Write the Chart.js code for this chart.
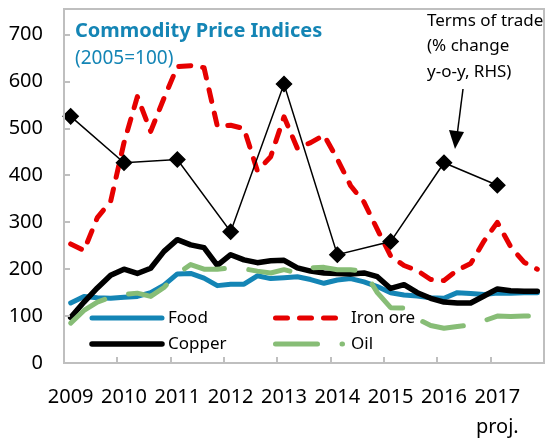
<!DOCTYPE html>
<html lang="en">
<head>
  <meta charset="UTF-8">
  <title>Commodity Price Indices</title>
  <script src="https://cdn.jsdelivr.net/npm/chart.js"></script>
  <style>
    html, body { margin: 0; padding: 0; background: #fff; }
  </style>
</head>
<body>
  <canvas id="grafico" width="553" height="439"></canvas>

<script>
  // categorias: trimestres de 2009 a 2017
  const years = ['2009', '2010', '2011', '2012', '2013', '2014', '2015', '2016', '2017'];
  const projYear = '2017';
  const quarters = [];
  years.forEach(function (y) {
    for (let q = 1; q <= 4; q++) quarters.push(y + ' Q' + q);
  });

  // indices (2005=100)
  const food = [128, 142, 139, 138, 140, 142, 150, 166, 190, 191, 181, 165,
    168, 168, 186, 180, 182, 184, 178, 170, 177, 180, 173, 163,
    150, 145, 143, 139, 138, 150, 148, 146, 149, 149, 150, 150];
  const copper = [97, 130, 160, 187, 200, 191, 202, 238, 263, 252, 246, 208,
    231, 220, 214, 218, 219, 203, 196, 192, 191, 190, 192, 184,
    159, 167, 150, 138, 130, 128, 128, 143, 158, 154, 153, 153];
  const ironOre = [254, 240, 310, 345, 470, 568, 494, 565, 632, 634, 630, 505,
    507, 500, 410, 440, 525, 458, 470, 486, 435, 378, 343, 285,
    228, 208, 197, 178, 176, 198, 212, 260, 300, 248, 215, 200];
  const oil = [85, 112, 130, 140, 146, 149, 142, 161, 190, 210, 200, 200,
    203, 201, 196, 192, 199, 192, 203, 204, 199, 199, 196, 150,
    118, 117, 94, 80, 74, 78, 81, 90, 100, 99, 100, 100];

  // termos de troca (anual, marcado no 1o trimestre)
  const totYears = ['2009', '2010', '2011', '2012', '2013', '2014', '2015', '2016', '2017'];
  const totValues = [526, 427, 434, 280, 595, 231, 259, 427, 379];

  const yTicks = [0, 100, 200, 300, 400, 500, 600, 700];

  const azul = '#1485b5';
  const fonte = 'Noto Sans';

  const totData = totYears.map(function (y, i) {
    return { x: y + ' Q1', y: totValues[i] };
  });

  const moldura = {
    id: 'moldura',
    afterDraw(chart) {
      const ctx = chart.ctx, a = chart.chartArea;
      const sx = chart.scales.x, sy = chart.scales.y;
      ctx.save();

      // caixa e marcas internas
      ctx.strokeStyle = '#bfbfbf';
      ctx.lineWidth = 2;
      ctx.strokeRect(a.left, a.top, a.right - a.left, a.bottom - a.top);
      ctx.beginPath();
      yTicks.forEach(function (v) {
        const py = Math.round(sy.getPixelForValue(v));
        ctx.moveTo(a.left, py);
        ctx.lineTo(a.left + 6, py);
      });
      for (let i = 4; i < quarters.length; i += 4) {
        const px = Math.round((sx.getPixelForValue(i - 1) + sx.getPixelForValue(i)) / 2);
        ctx.moveTo(px, a.bottom);
        ctx.lineTo(px, a.bottom - 6);
      }
      ctx.stroke();

      ctx.textBaseline = 'alphabetic';
      ctx.textAlign = 'left';

      // titulo
      ctx.fillStyle = azul;
      ctx.font = 'bold 20px "' + fonte + '"';
      ctx.fillText('Commodity Price Indices', 75, 37);
      ctx.font = '19px "' + fonte + '"';
      ctx.fillText('(2005=100)', 75, 64);

      // anotacao termos de troca
      ctx.fillStyle = '#000';
      ctx.font = '17px "' + fonte + '"';
      ctx.fillText('Terms of trade', 427, 26);
      ctx.fillText('(% change', 427, 51);
      ctx.fillText('y-o-y, RHS)', 427, 77);
      ctx.strokeStyle = '#000';
      ctx.lineWidth = 1.5;
      ctx.beginPath();
      ctx.moveTo(463, 89);
      ctx.lineTo(457.5, 132);
      ctx.stroke();
      ctx.beginPath();
      ctx.moveTo(455, 149);
      ctx.lineTo(449, 130);
      ctx.lineTo(464, 132);
      ctx.closePath();
      ctx.fill();

      // legenda
      const itens = [
        { ds: 0, x: 92, y: 318, w: 70 },
        { ds: 2, x: 275.5, y: 318, w: 60 },
        { ds: 1, x: 92, y: 344, w: 70 },
        { ds: 3, x: 275.5, y: 344, w: 67 }
      ];
      itens.forEach(function (it) {
        const d = chart.data.datasets[it.ds];
        ctx.save();
        ctx.strokeStyle = d.borderColor;
        ctx.lineWidth = d.borderWidth;
        ctx.lineCap = 'round';
        ctx.setLineDash(d.borderDash || []);
        ctx.beginPath();
        ctx.moveTo(it.x, it.y);
        ctx.lineTo(it.x + it.w, it.y);
        ctx.stroke();
        ctx.restore();
        ctx.fillStyle = '#000';
        ctx.font = '17px "' + fonte + '"';
        ctx.textBaseline = 'middle';
        ctx.fillText(d.label, it.x < 200 ? 168 : 351, it.y);
      });
      ctx.restore();
    }
  };

  new Chart(document.getElementById('grafico'), {
    type: 'line',
    data: {
      labels: quarters,
      datasets: [
        {
          label: 'Food', data: food, borderColor: azul, borderWidth: 5,
          pointRadius: 0, order: 4, borderCapStyle: 'round', borderJoinStyle: 'round'
        },
        {
          label: 'Copper', data: copper, borderColor: '#000', borderWidth: 5.5,
          pointRadius: 0, order: 3, borderCapStyle: 'round', borderJoinStyle: 'round'
        },
        {
          label: 'Iron ore', data: ironOre, borderColor: '#e60000', borderWidth: 5,
          borderDash: [12, 12], pointRadius: 0, order: 2,
          borderCapStyle: 'round', borderJoinStyle: 'round'
        },
        {
          label: 'Oil', data: oil, borderColor: '#87bd76', borderWidth: 5,
          borderDash: [42, 24.5], pointRadius: 0, order: 1,
          borderCapStyle: 'round', borderJoinStyle: 'round'
        },
        {
          label: 'Terms of trade', data: totData, borderColor: '#000', borderWidth: 1.5,
          pointStyle: 'rectRot', pointRadius: 7.5, pointBackgroundColor: '#000',
          pointBorderColor: '#000', order: 0
        }
      ]
    },
    options: {
      responsive: false,
      animation: false,
      devicePixelRatio: 1,
      layout: { padding: { top: 4, right: 4, left: 0, bottom: 0 } },
      plugins: { legend: { display: false }, tooltip: { enabled: false } },
      elements: { line: { tension: 0 } },
      scales: {
        x: {
          type: 'category',
          offset: true,
          grid: { display: false, drawTicks: false },
          border: { display: false },
          afterFit: function (s) {
            s.height = 76;
            s.paddingLeft = 0;
            s.paddingRight = 0;
          },
          ticks: {
            autoSkip: false,
            maxRotation: 0,
            minRotation: 0,
            padding: 19,
            color: '#000',
            font: { family: fonte, size: 20, lineHeight: 1.5 },
            callback: function (v, i) {
              if (i % 4 !== 0) return '';
              const yr = years[i / 4];
              return yr === projYear ? [yr, 'proj.'] : yr;
            }
          }
        },
        y: {
          min: 0,
          max: 755,
          grid: { display: false, drawTicks: false },
          border: { display: false },
          afterFit: function (s) {
            s.width = 64;
            s.paddingTop = 0;
            s.paddingBottom = 0;
          },
          afterBuildTicks: function (s) {
            s.ticks = yTicks.map(function (v) { return { value: v }; });
          },
          ticks: {
            padding: 21,
            color: '#000',
            font: { family: fonte, size: 20 }
          }
        }
      }
    },
    plugins: [moldura]
  });
</script>
</body>
</html>
